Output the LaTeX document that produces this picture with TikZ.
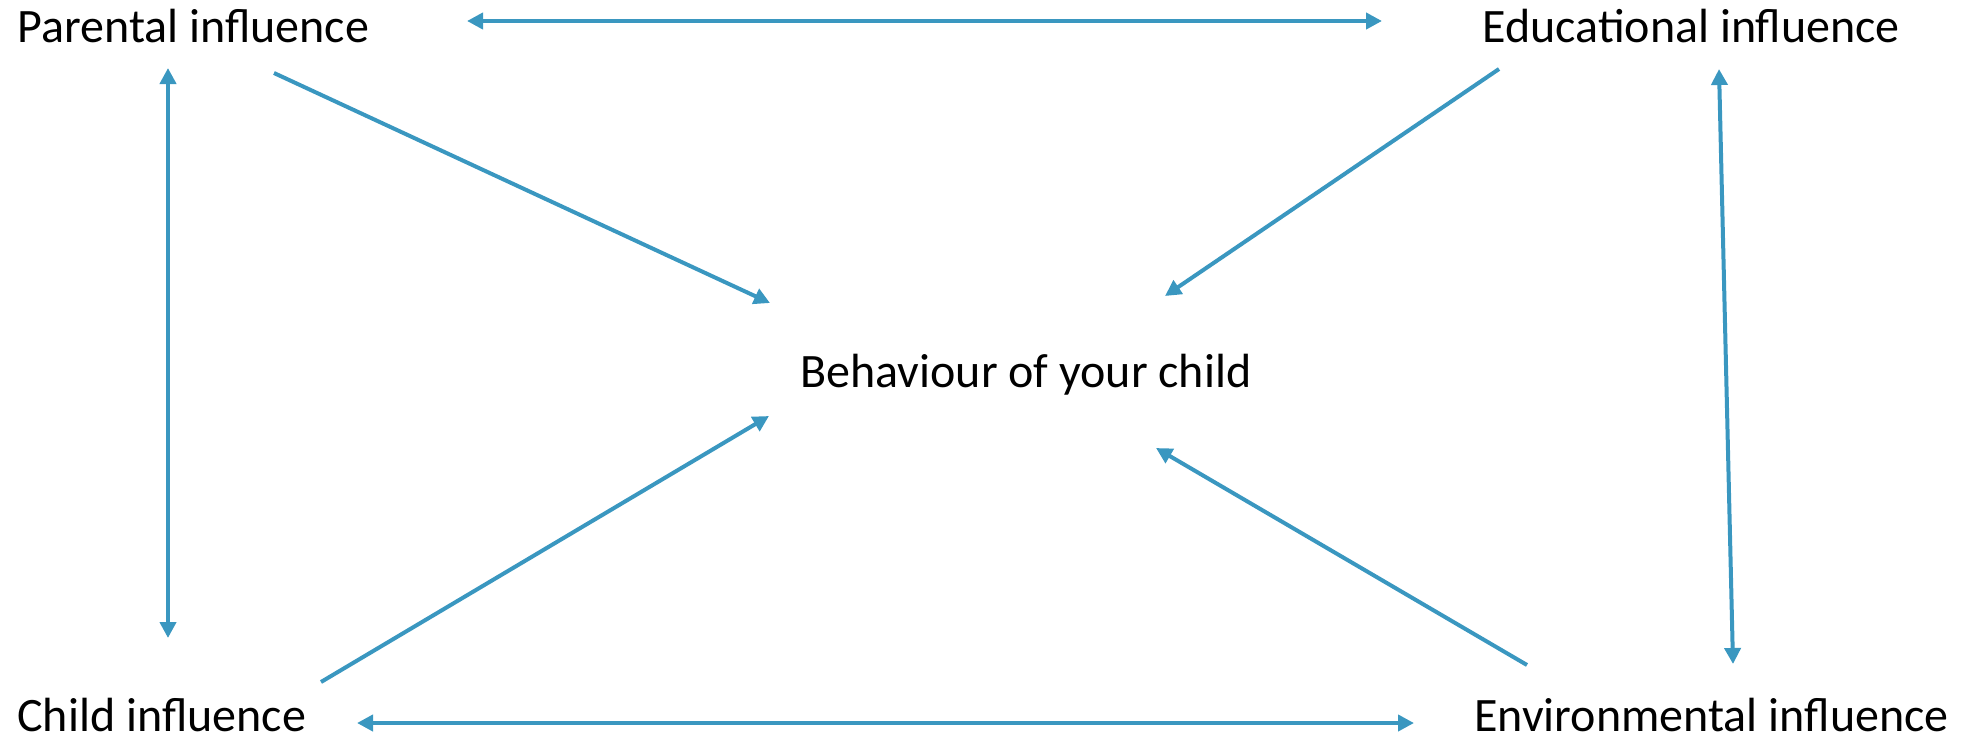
\documentclass[tikz,border=0pt]{standalone}
\usepackage{fontspec}
\setmainfont{Carlito}
\usetikzlibrary{arrows.meta}
\definecolor{linkblue}{RGB}{58,151,192}
\begin{document}
\begin{tikzpicture}[x=0.5pt,y=-0.5pt,
  label/.style={inner sep=0pt,anchor=base west,font=\fontsize{24}{28}\selectfont},
  link/.style={draw=linkblue,line width=2pt,-{Triangle[length=8pt,width=8pt]}},
  twoway/.style={draw=linkblue,line width=2pt,{Triangle[length=8pt,width=8pt]}-{Triangle[length=8pt,width=8pt]}}]
\useasboundingbox (0,0) rectangle (1963,740);

% labels
\node[label] (par) at (17,42) {Parental influence};
\node[label] (edu) at (1482,42) {Educational influence};
\node[label] (chi) at (17,731) {Child influence};
\node[label] (env) at (1474,731) {Environmental influence};
\node[label] (beh) at (800,387) {Behaviour of your child};

% connector end points around the labels
\coordinate (parR) at (467,21);   \coordinate (eduL) at (1382,21);
\coordinate (chiR) at (357,723);  \coordinate (envL) at (1414,723);
\coordinate (parD) at (168,68);   \coordinate (chiU) at (168,638);
\coordinate (eduD) at (1719,69);  \coordinate (envU) at (1733,664);
\coordinate (parO) at (274,73);   \coordinate (behPar) at (770,303);
\coordinate (eduO) at (1499,69);  \coordinate (behEdu) at (1165,296);
\coordinate (chiO) at (321,682);  \coordinate (behChi) at (769,416);
\coordinate (envO) at (1527,665); \coordinate (behEnv) at (1156,448);

% mutual influences along the frame
\draw[twoway] (parR) -- (eduL);
\draw[twoway] (chiR) -- (envL);
\draw[twoway] (parD) -- (chiU);
\draw[twoway] (eduD) -- (envU);

% influences on the child's behaviour
\draw[link] (parO) -- (behPar);
\draw[link] (eduO) -- (behEdu);
\draw[link] (chiO) -- (behChi);
\draw[link] (envO) -- (behEnv);
\end{tikzpicture}
\end{document}
